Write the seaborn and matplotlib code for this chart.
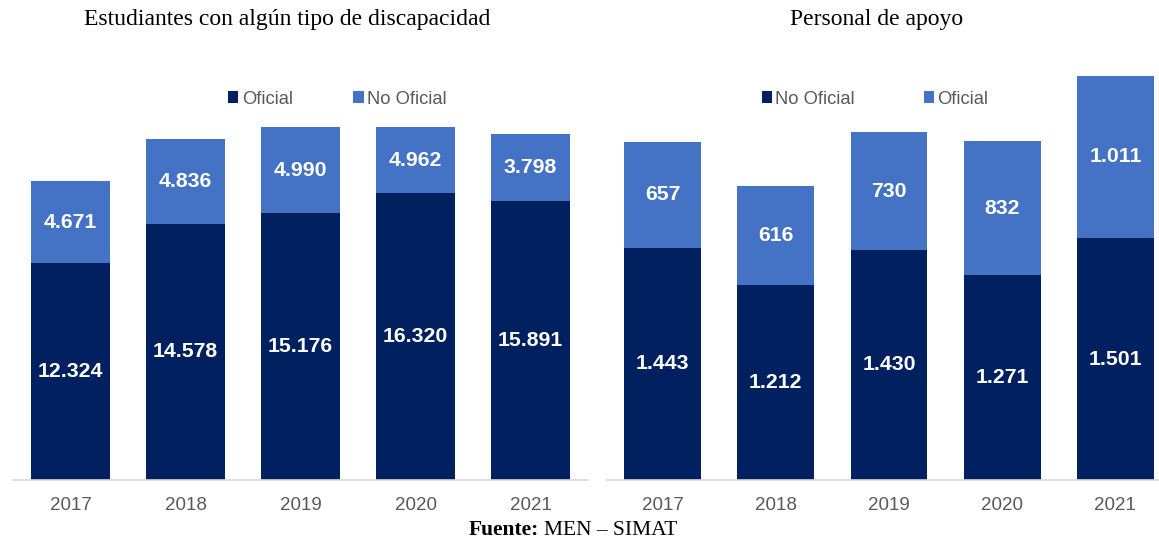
import matplotlib
matplotlib.use("Agg")
import matplotlib.pyplot as plt
import seaborn as sns
import pandas as pd

years = ["2017", "2018", "2019", "2020", "2021"]

# Left panel: Estudiantes con algún tipo de discapacidad
est_oficial = [12324, 14578, 15176, 16320, 15891]
est_no_oficial = [4671, 4836, 4990, 4962, 3798]

# Right panel: Personal de apoyo
apoyo_no_oficial = [1443, 1212, 1430, 1271, 1501]
apoyo_oficial = [657, 616, 730, 832, 1011]

DARK = "#002060"
LIGHT = "#4472C4"
GRAY = "#595959"

sns.set_theme(style="white")
plt.rcParams["font.family"] = ["Liberation Sans", "DejaVu Sans"]

W, H = 1159, 539
fig = plt.figure(figsize=(W / 100, H / 100), dpi=100)


def px_axes(x0, x1, ytop, ybot):
    return fig.add_axes([x0 / W, (H - ybot) / H, (x1 - x0) / W, (ybot - ytop) / H])


def fmt(v):
    return f"{v:,.0f}".replace(",", ".")


def draw(ax, bottom_vals, top_vals, bottom_lab, top_lab, ymax, xmax):
    df = pd.DataFrame({"year": years, "b": bottom_vals, "t": top_vals})
    sns.barplot(data=df, x="year", y="b", color=DARK, saturation=1, width=0.68,
                ax=ax, label=bottom_lab, linewidth=0)
    sns.barplot(data=df, x="year", y="t", color=LIGHT, saturation=1, width=0.68,
                ax=ax, label=top_lab, bottom=df["b"], linewidth=0)
    ax.set_ylim(0, ymax)
    ax.set_xlim(-0.5, xmax)
    for c in ax.containers:
        ax.bar_label(c, labels=[fmt(r.get_height()) for r in c], label_type="center",
                     color="white", fontsize=15.3, fontweight="bold")
    ax.set_xlabel("")
    ax.set_ylabel("")
    ax.set_yticks([])
    for s in ["left", "right", "top"]:
        ax.spines[s].set_visible(False)
    ax.spines["bottom"].set_color("#D9D9D9")
    ax.spines["bottom"].set_linewidth(1.2)
    ax.tick_params(axis="x", length=0, labelsize=13.5, labelcolor=GRAY, pad=12)
    ax.patch.set_alpha(0)


ax1 = px_axes(13, 588, 127, 480)
draw(ax1, est_oficial, est_no_oficial, "Oficial", "No Oficial", 20090, 4.5)

ax2 = px_axes(606, 1159, 60, 480)
draw(ax2, apoyo_no_oficial, apoyo_oficial, "No Oficial", "Oficial", 2609, (1159 - 606) / 113.2 - 0.5)

leg_kw = dict(ncol=2, frameon=False, fontsize=13.2, handlelength=0.55, handleheight=0.55,
              handletextpad=0.2, loc="center", labelcolor=GRAY)
ax1.legend(bbox_to_anchor=(337.5 / W, (H - 99) / H), bbox_transform=fig.transFigure,
           columnspacing=3.3, **leg_kw)
ax2.legend(bbox_to_anchor=(875 / W, (H - 99) / H), bbox_transform=fig.transFigure,
           columnspacing=3.75, **leg_kw)

serif = ["Liberation Serif", "DejaVu Serif"]
fig.text(287.5 / W, (H - 25) / H, "Estudiantes con algún tipo de discapacidad",
         ha="center", va="baseline", fontsize=17, family=serif, color="black")
fig.text(876.5 / W, (H - 25) / H, "Personal de apoyo",
         ha="center", va="baseline", fontsize=17, family=serif, color="black")

fig.text(539 / W, (H - 535) / H, "Fuente:", ha="right", va="baseline", fontsize=15.5,
         family=serif, fontweight="bold", color="black")
fig.text(544 / W, (H - 535) / H, "MEN – SIMAT", ha="left", va="baseline", fontsize=15.5,
         family=serif, color="black")

fig.savefig("out.png", dpi=100, facecolor="white")
